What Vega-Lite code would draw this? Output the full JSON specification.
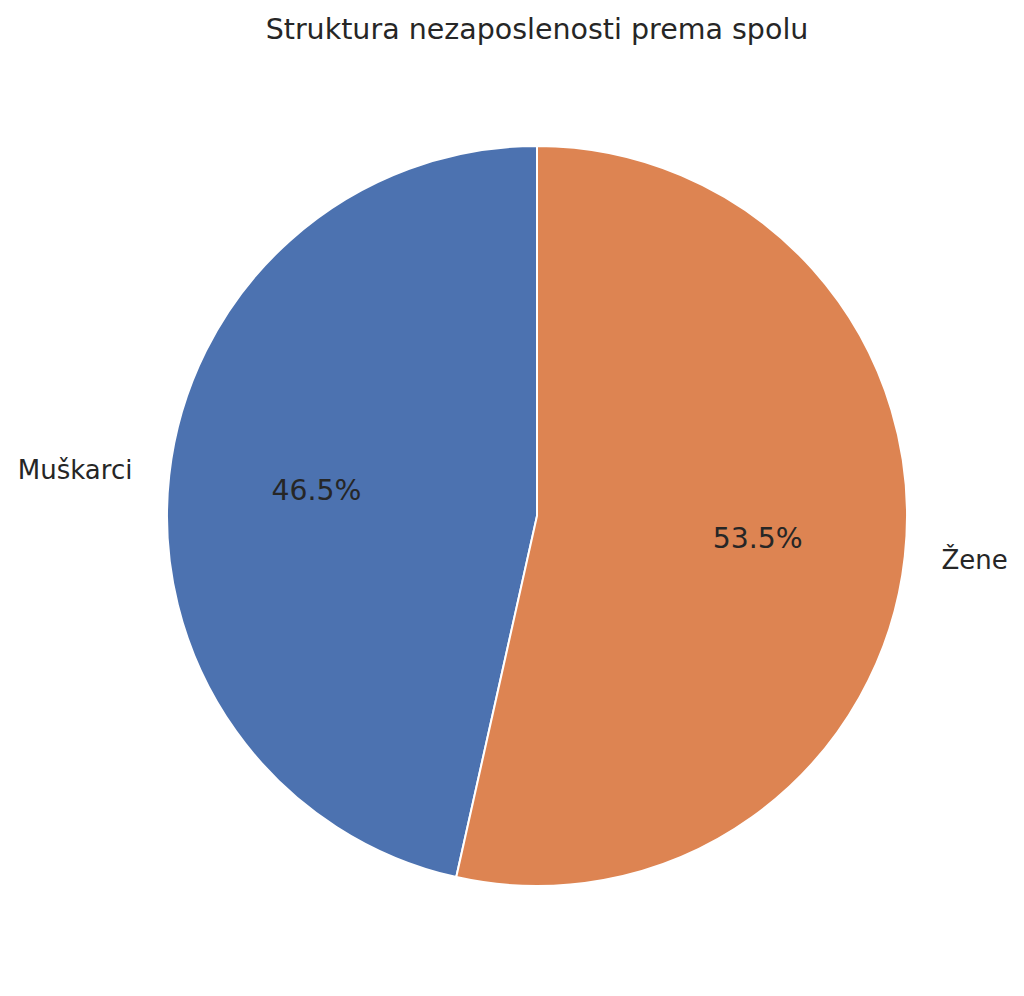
{
  "$schema": "https://vega.github.io/schema/vega-lite/v6.json",
  "width": 974,
  "height": 912,
  "autosize": "none",
  "padding": {"left": 50, "top": 60, "right": 0, "bottom": 24},
  "background": "white",
  "config": {"view": {"stroke": null}, "font": "DejaVu Sans"},
  "title": {"text": "Struktura nezaposlenosti prema spolu", "fontSize": 28.5, "fontWeight": "normal", "font": "DejaVu Sans", "color": "#262626", "anchor": "middle", "offset": 16},
  "data": {"values": [
    {"spol": "Muškarci", "udio": 46.5, "oznaka": "46.5%"},
    {"spol": "Žene", "udio": 53.5, "oznaka": "53.5%"}
  ]},
  "encoding": {
    "theta": {"field": "udio", "type": "quantitative", "stack": true},
    "order": {"field": "spol", "type": "nominal", "sort": "descending"}
  },
  "layer": [
    {
      "mark": {"type": "arc", "outerRadius": 370, "stroke": "white", "strokeWidth": 2},
      "encoding": {
        "color": {"field": "spol", "type": "nominal", "scale": {"domain": ["Muškarci", "Žene"], "range": ["#4C72B0", "#DD8452"]}, "legend": null}
      }
    },
    {
      "mark": {"type": "text", "radius": 222, "fontSize": 28.3, "color": "#262626", "font": "DejaVu Sans"},
      "encoding": {"text": {"field": "oznaka"}}
    },
    {
      "mark": {"type": "text", "radius": 407, "fontSize": 26, "color": "#262626", "align": "right", "baseline": "middle", "font": "DejaVu Sans"},
      "encoding": {"text": {"condition": {"test": "datum.spol === 'Muškarci'", "field": "spol"}, "value": ""}}
    },
    {
      "mark": {"type": "text", "radius": 407, "fontSize": 26, "color": "#262626", "align": "left", "baseline": "middle", "font": "DejaVu Sans"},
      "encoding": {"text": {"condition": {"test": "datum.spol === 'Žene'", "field": "spol"}, "value": ""}}
    }
  ]
}
